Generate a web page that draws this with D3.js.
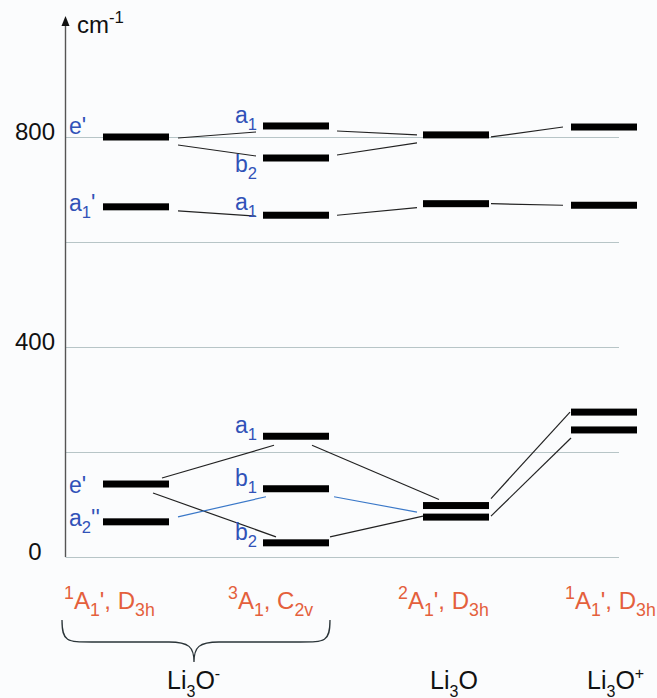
<!DOCTYPE html>
<html>
<head>
<meta charset="utf-8">
<script src="https://cdn.jsdelivr.net/npm/d3@7"></script>
<style>
  body { margin: 0; background: #fbfcfd; }
  svg { display: block; font-family: "Liberation Sans", Arial, sans-serif; }
</style>
</head>
<body>
<svg width="657" height="698"></svg>
<script>
(function (d3) {
  'use strict';

  // columns (states) and their levels, cm-1
  const columns = ['Li3O- D3h', 'Li3O- C2v', 'Li3O D3h', 'Li3O+ D3h'];
  const levelsD3hAnion = [800, 667, 139, 67];
  const levelsC2vAnion = [821, 760, 651, 230, 130, 27];
  const levelsNeutral = [804, 673, 98, 76];
  const levelsCation = [819, 670, 276, 242];

  // symmetry labels: column, level, text parts
  const levelLabels = [
    [0, 800, [["e'", 'n']]],
    [0, 667, [['a', 'n'], ['1', 'sub'], ["'", 'n']]],
    [0, 139, [["e'", 'n']]],
    [0, 67, [['a', 'n'], ['2', 'sub'], ["''", 'n']]],
    [1, 821, [['a', 'n'], ['1', 'sub']]],
    [1, 760, [['b', 'n'], ['2', 'sub']]],
    [1, 651, [['a', 'n'], ['1', 'sub']]],
    [1, 230, [['a', 'n'], ['1', 'sub']]],
    [1, 130, [['b', 'n'], ['1', 'sub']]],
    [1, 27, [['b', 'n'], ['2', 'sub']]]
  ];

  // correlation lines: fromCol, fromLevel, toCol, toLevel, blue?
  const links = [
    [0, 800, 1, 821, false],
    [0, 800, 1, 760, false],
    [0, 667, 1, 651, false],
    [0, 139, 1, 230, false],
    [0, 139, 1, 27, false],
    [0, 67, 1, 130, true],
    [1, 821, 2, 804, false],
    [1, 760, 2, 804, false],
    [1, 651, 2, 673, false],
    [1, 230, 2, 98, false],
    [1, 130, 2, 76, true],
    [1, 27, 2, 76, false],
    [2, 804, 3, 819, false],
    [2, 673, 3, 670, false],
    [2, 98, 3, 276, false],
    [2, 76, 3, 242, false]
  ];

  const gridTicks = [0, 200, 400, 600, 800];
  const labelTicks = [0, 400, 800];

  const stateLabels = [
    [['1', 'sup'], ['A', 'n'], ['1', 'sub'], ["', D", 'n'], ['3h', 'sub']],
    [['3', 'sup'], ['A', 'n'], ['1', 'sub'], [', C', 'n'], ['2v', 'sub']],
    [['2', 'sup'], ['A', 'n'], ['1', 'sub'], ["', D", 'n'], ['3h', 'sub']],
    [['1', 'sup'], ['A', 'n'], ['1', 'sub'], ["', D", 'n'], ['3h', 'sub']]
  ];
  const species = [
    [['Li', 'n'], ['3', 'sub'], ['O', 'n'], ['-', 'sup']],
    [['Li', 'n'], ['3', 'sub'], ['O', 'n']],
    [['Li', 'n'], ['3', 'sub'], ['O', 'n'], ['+', 'sup']]
  ];

  const levels = [levelsD3hAnion, levelsC2vAnion, levelsNeutral, levelsCation];

  const svg = d3.select('svg');
  const axisX = 65.5;
  const barW = 66;
  const barH = 7;

  const y = d3.scaleLinear().domain([0, 1000]).range([557, 32]);
  const x = d3.scaleOrdinal().domain(d3.range(columns.length)).range([136, 296, 456, 604]);

  const blue = '#3152b8';
  const orange = '#e4603c';

  const rich = (sel, parts, size, ratio) => {
    let shift = 0;
    parts.forEach(([t, m]) => {
      const target = m === 'sub' ? size * 0.3 : m === 'sup' ? -size * 0.42 : 0;
      sel.append('tspan')
        .attr('dy', target - shift)
        .attr('font-size', m === 'n' ? size : size * ratio)
        .text(t);
      shift = target;
    });
  };

  // grid
  svg.append('g').selectAll('line').data(gridTicks).enter().append('line')
    .attr('x1', axisX).attr('x2', 619)
    .attr('y1', d => Math.round(y(d)) + 0.5).attr('y2', d => Math.round(y(d)) + 0.5)
    .attr('stroke', '#b7c5c7').attr('stroke-width', 1);

  // y axis labels
  const axis = d3.axisLeft(y).tickValues(labelTicks).tickSize(0);
  const ag = svg.append('g').attr('transform', `translate(${axisX},0)`).call(axis);
  ag.select('.domain').remove();
  ag.selectAll('text').attr('font-size', 24).attr('fill', '#111')
    .attr('font-family', '"Liberation Sans", Arial, sans-serif')
    .attr('text-anchor', 'middle').attr('x', 35 - axisX).attr('dy', '0.12em');

  // axis line + arrow
  svg.append('line').attr('x1', axisX).attr('x2', axisX)
    .attr('y1', y(0)).attr('y2', 24).attr('stroke', '#555').attr('stroke-width', 1.4);
  svg.append('path').attr('d', `M${axisX},16 L${axisX - 4},26 L${axisX + 4},26 Z`).attr('fill', '#111');
  const unit = svg.append('text').attr('x', 77).attr('y', 33).attr('fill', '#111');
  rich(unit, [['cm', 'n'], ['-1', 'sup']], 24, 0.7);

  // links: end nudges [dx1, dy1, dx2, dy2] from bar ends, as in the drawing
  const nudge = [
    [9, 1, -7, 6], [9, 8, -7, -2], [9, 4, -7, 1],
    [-7, -6, 11, 9], [-16, 9, 13, -6], [9, -5, 3, 8],
    [8, 5, -6, 0], [8, -3, -6, 8], [8, 0, -6, 4],
    [-17, 9, 16, -6], [5, 8, -6, -5], [1, -6, 0, -1],
    [2, 2, -8, 0], [2, 0, -8, 0], [2, -7, -1, 0], [2, -1, 0, 8]
  ];
  svg.append('g').selectAll('line').data(links).enter().append('line')
    .attr('x1', (d, i) => x(d[0]) + barW / 2 + nudge[i][0])
    .attr('y1', (d, i) => y(d[1]) + nudge[i][1])
    .attr('x2', (d, i) => x(d[2]) - barW / 2 + nudge[i][2])
    .attr('y2', (d, i) => y(d[3]) + nudge[i][3])
    .attr('stroke', d => d[4] ? '#3a78c8' : '#222')
    .attr('stroke-width', 1.2);

  // level bars
  const flat = levels.flatMap((vals, c) => vals.map(v => ({ c, v })));
  svg.append('g').selectAll('rect').data(flat).enter().append('rect')
    .attr('x', d => x(d.c) - barW / 2)
    .attr('y', d => y(d.v) - barH / 2)
    .attr('width', barW).attr('height', barH)
    .attr('fill', '#000');

  // level labels
  const shiftFor = (c, v) => {
    if (c === 1 && v === 760) return 14;
    if (c === 1 && v === 651) return -5;
    if (c === 0 && v === 139) return 9;
    if (c === 0 && v < 700) return 4;
    return -3;
  };
  levelLabels.forEach(([c, v, parts]) => {
    const t = svg.append('text')
      .attr('x', c === 0 ? 69 : x(c) - barW / 2 - 6)
      .attr('y', y(v) + shiftFor(c, v))
      .attr('text-anchor', c === 0 ? 'start' : 'end')
      .attr('fill', blue);
    rich(t, parts, 23, 0.72);
  });

  // state labels
  const stateX = [64, 228, 398, 565];
  stateLabels.forEach((parts, i) => {
    const t = svg.append('text').attr('x', stateX[i]).attr('y', 609).attr('fill', orange);
    rich(t, parts, 24, 0.74);
  });

  // brace under the anion states
  const bx0 = 62, bx1 = 330, bm = 194, by0 = 620, by1 = 642, by2 = 662;
  svg.append('path')
    .attr('d', `M${bx0},${by0} C${bx0},${by1} ${bx0 + 5},${by1} ${bx0 + 30},${by1}
      L${bm - 25},${by1} C${bm - 5},${by1} ${bm},${by1 + 5} ${bm},${by2}
      C${bm},${by1 + 5} ${bm + 5},${by1} ${bm + 25},${by1}
      L${bx1 - 30},${by1} C${bx1 - 5},${by1} ${bx1},${by1} ${bx1},${by0}`)
    .attr('fill', 'none').attr('stroke', '#2a3438').attr('stroke-width', 1.3);

  const speciesX = [167, 430, 587];
  species.forEach((parts, i) => {
    const t = svg.append('text').attr('x', speciesX[i]).attr('y', 689).attr('fill', '#111');
    rich(t, parts, 25, 0.64);
  });

}(d3));
</script>
</body>
</html>
